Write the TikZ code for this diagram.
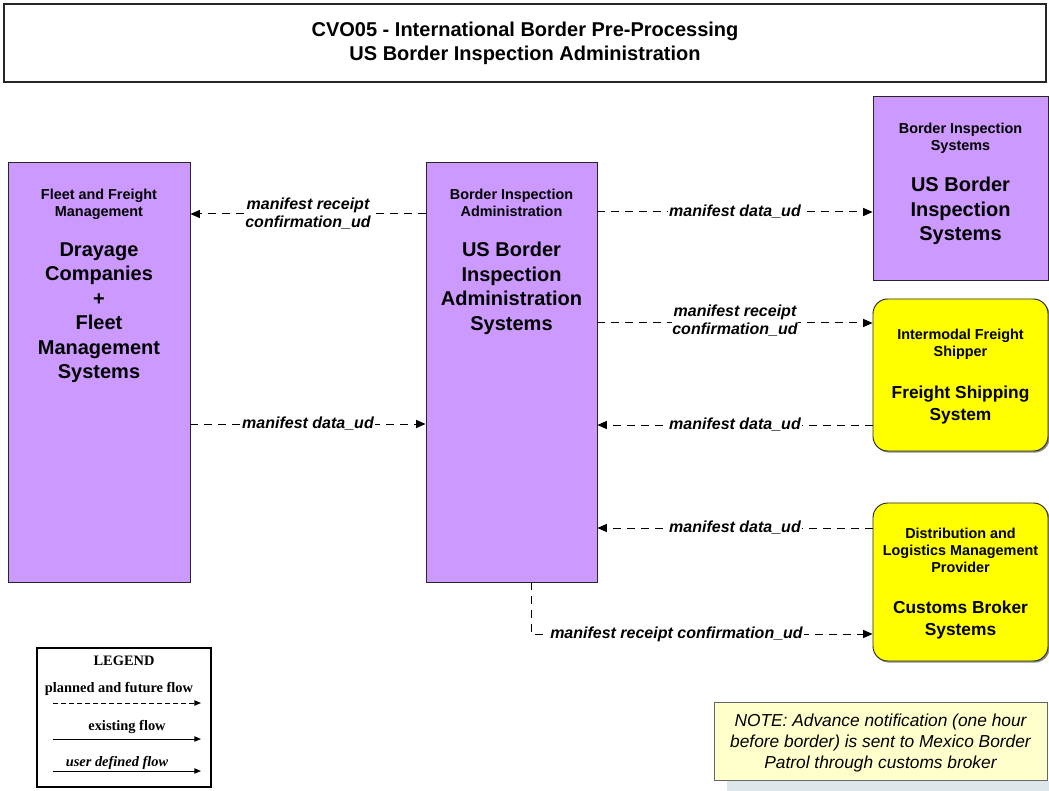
\documentclass[tikz,border=0pt]{standalone}
\usepackage{fontspec}
\setmainfont{Liberation Sans}
\newfontfamily\legendfont{Liberation Serif}
\usetikzlibrary{arrows.meta,shadows}

\definecolor{sysPurple}{HTML}{CC99FF}
\definecolor{sysYellow}{HTML}{FFFF00}
\definecolor{noteYellow}{HTML}{FFFFCC}
\definecolor{noteShade}{HTML}{DDE6EA}

\tikzset{
  sysbox/.style={draw=black!85, line width=0.7pt, fill=sysPurple, inner sep=0pt},
  extbox/.style={draw=black!85, line width=0.7pt, fill=sysYellow, inner sep=0pt,
    rounded corners=11pt, drop shadow={shadow xshift=1.2pt, shadow yshift=-1.2pt, fill=black!45, opacity=1}},
  roletext/.style={font=\fontsize{10.8}{12.75}\selectfont\bfseries, align=center, inner sep=0pt, anchor=north},
  nametext/.style={font=\fontsize{15}{18.4}\selectfont\bfseries, align=center, inner sep=0pt, anchor=north},
  smallname/.style={font=\fontsize{13}{16.2}\selectfont\bfseries, align=center, inner sep=0pt, anchor=north},
  flow/.style={line width=0.75pt, dash pattern=on 6pt off 4.5pt, -{Triangle[length=7pt,width=6pt]}},
  flowlabel/.style={font=\fontsize{12}{13.5}\selectfont\bfseries\itshape, align=center, fill=white, inner sep=0.6pt},
  legendtext/.style={font=\legendfont\fontsize{10.8}{12}\selectfont\bfseries, inner sep=0pt}
}

\begin{document}
\begin{tikzpicture}[x=0.75pt, y=-0.75pt]
    \useasboundingbox (0,0) rectangle (1049,791);

    % Title
    \node[draw=black!85, line width=0.8pt, minimum width=781.5pt, minimum height=58.5pt, align=center,
          font=\fontsize{15}{18}\selectfont\bfseries] (title) at (525,43)
          {CVO05 - International Border Pre-Processing\\US Border Inspection Administration};

    % Systems (boxes)
    \node[sysbox, minimum width=136.5pt, minimum height=315pt] (fleet) at (99,372) {};
    \node[sysbox, minimum width=128.25pt, minimum height=315pt] (bia) at (511.5,372) {};
    \node[sysbox, minimum width=131.25pt, minimum height=138pt] (bis) at (960.5,188) {};
    \node[extbox, minimum width=131.25pt, minimum height=114pt] (shipper) at (960.5,375) {};
    \node[extbox, minimum width=131.25pt, minimum height=118.5pt] (broker) at (960.5,582) {};

    % Box texts
    \node[roletext] (fleet-role) at (99,189) {Fleet and Freight\\Management};
    \node[nametext] (fleet-name) at (99,242) {Drayage\\Companies\\+\\Fleet\\Management\\Systems};
    \node[roletext] (bia-role) at (511.5,189) {Border Inspection\\Administration};
    \node[nametext] (bia-name) at (511.5,242) {US Border\\Inspection\\Administration\\Systems};
    \node[roletext] (bis-role) at (960.5,123) {Border Inspection\\Systems};
    \node[nametext] (bis-name) at (960.5,177) {US Border\\Inspection\\Systems};
    \node[roletext] (shipper-role) at (960.5,329) {Intermodal Freight\\Shipper};
    \node[smallname] (shipper-name) at (960.5,386) {Freight Shipping\\System};
    \node[roletext] (broker-role) at (960.5,528) {Distribution and\\Logistics Management\\Provider};
    \node[smallname] (broker-name) at (960.5,601) {Customs Broker\\Systems};

    % Flows
    \draw[flow] (bia.west |- 0,214) -- node[flowlabel] {manifest receipt\\confirmation\_ud} (fleet.east |- 0,214);
    \draw[flow] (fleet.east |- 0,424) -- node[flowlabel] {manifest data\_ud} (bia.west |- 0,424);
    \draw[flow] (bia.east |- 0,212) -- node[flowlabel] {manifest data\_ud} (bis.west |- 0,212);
    \draw[flow] (bia.east |- 0,323) -- node[flowlabel, yshift=1.5pt] {manifest receipt\\confirmation\_ud} (shipper.west |- 0,323);
    \draw[flow] (shipper.west |- 0,425) -- node[flowlabel] {manifest data\_ud} (bia.east |- 0,425);
    \draw[flow] (broker.west |- 0,528) -- node[flowlabel] {manifest data\_ud} (bia.east |- 0,528);
    \draw[flow] (bia.south -| 531,0) |- node[flowlabel, pos=0.713] {manifest receipt confirmation\_ud} (broker.west |- 0,634);

    % Legend
    \node[draw, line width=1.1pt, minimum width=130.5pt, minimum height=104.25pt] (legend) at (124,717.5) {};
    \node[legendtext] (lg-title) at (124,661) {LEGEND};
    \node[legendtext] (lg-planned) at (119,689) {planned and future flow};
    \coordinate (lg1a) at (53,703);
    \coordinate (lg1b) at (201,703);
    \draw[line width=0.75pt, dash pattern=on 3.5pt off 2.5pt, -{Triangle[length=5pt,width=4pt]}] (lg1a) -- (lg1b);
    \node[legendtext] (lg-existing) at (127,727) {existing flow};
    \coordinate (lg2a) at (53,739);
    \coordinate (lg2b) at (201,739);
    \draw[line width=0.75pt, -{Triangle[length=5pt,width=4pt]}] (lg2a) -- (lg2b);
    \node[legendtext, font=\legendfont\fontsize{10.8}{12}\selectfont\bfseries\itshape] (lg-user) at (117,763) {user defined flow};
    \coordinate (lg3a) at (53,771);
    \coordinate (lg3b) at (201,771);
    \draw[line width=0.75pt, -{Triangle[length=5pt,width=4pt]}] (lg3a) -- (lg3b);

    % Note
    \fill[noteShade] (727,781) rectangle (1049,791);
    \node[draw=black!60, line width=0.7pt, fill=noteYellow, minimum width=249.75pt, minimum height=58.5pt,
          align=center, text depth=0pt, font=\fontsize{13}{15.75}\selectfont\itshape] (note) at (880.5,741)
          {NOTE: Advance notification (one hour\\before border) is sent to Mexico Border\\Patrol through customs broker};
\end{tikzpicture}
\end{document}
